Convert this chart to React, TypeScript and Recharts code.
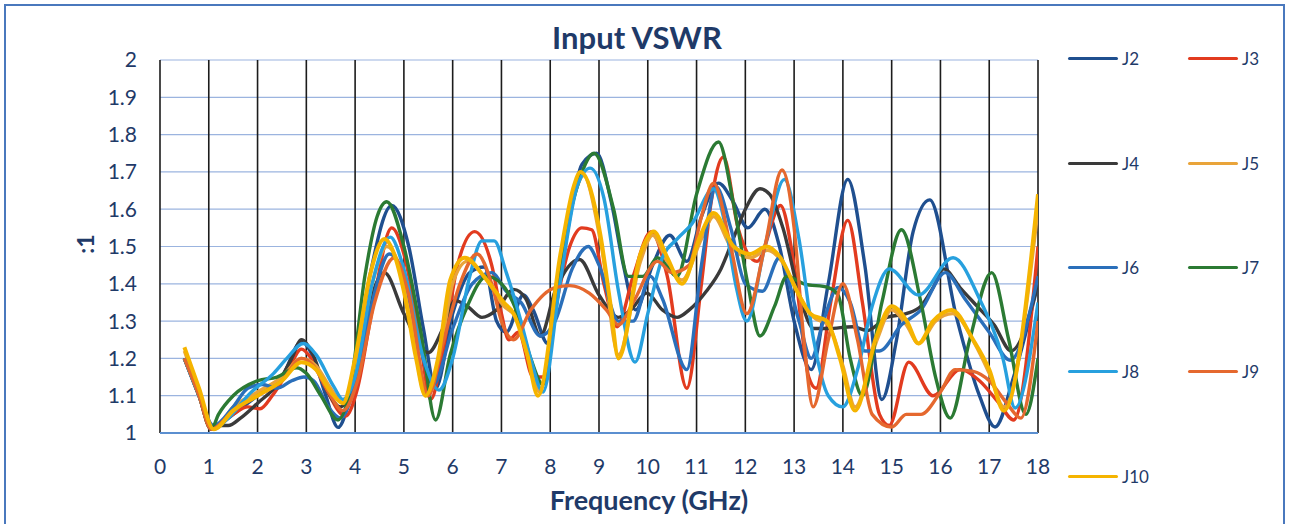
import React from 'react';
import { LineChart, Line, XAxis, YAxis, CartesianGrid } from 'recharts';

const FONT = 'Lato, "Open Sans", "DejaVu Sans", sans-serif';
const TEXT = '#1f3a68';

const X_TICKS = [0, 1, 2, 3, 4, 5, 6, 7, 8, 9, 10, 11, 12, 13, 14, 15, 16, 17, 18];
const Y_TICKS = [1, 1.1, 1.2, 1.3, 1.4, 1.5, 1.6, 1.7, 1.8, 1.9, 2];

// [frequency GHz, VSWR]
const J2: [number, number][] = [
  [0.5, 1.2], [0.8, 1.1], [1.05, 1.01], [1.3, 1.03], [1.6, 1.06], [2.0, 1.1], [2.5, 1.15], [2.9, 1.245],
  [3.15, 1.2], [3.4, 1.1], [3.65, 1.015], [3.9, 1.1], [4.3, 1.42], [4.75, 1.61], [5.1, 1.5], [5.4, 1.28],
  [5.65, 1.12], [6.0, 1.32], [6.35, 1.43], [6.65, 1.445], [6.9, 1.3], [7.1, 1.27], [7.45, 1.37], [7.65, 1.33],
  [7.95, 1.24], [8.3, 1.5], [8.65, 1.72], [8.95, 1.75], [9.25, 1.62], [9.5, 1.45], [9.75, 1.33], [10.1, 1.45],
  [10.45, 1.53], [10.8, 1.46], [11.1, 1.58], [11.45, 1.67], [11.75, 1.62], [12.05, 1.55], [12.4, 1.6], [12.7, 1.5],
  [13.0, 1.3], [13.35, 1.17], [13.7, 1.4], [14.1, 1.68], [14.45, 1.45], [14.8, 1.09], [15.1, 1.25], [15.44, 1.54],
  [15.78, 1.625], [16.33, 1.31], [16.8, 1.1], [17.12, 1.016], [17.5, 1.15], [18, 1.4],
];
const J3: [number, number][] = [
  [0.5, 1.2], [0.8, 1.1], [1.05, 1.01], [1.5, 1.05], [1.8, 1.07], [2.05, 1.065], [2.3, 1.1], [2.6, 1.16],
  [2.9, 1.225], [3.1, 1.2], [3.4, 1.12], [3.8, 1.045], [4.05, 1.12], [4.35, 1.33], [4.75, 1.55], [5.0, 1.48],
  [5.3, 1.28], [5.55, 1.09], [5.8, 1.22], [6.1, 1.45], [6.45, 1.54], [6.8, 1.45], [7.0, 1.32], [7.15, 1.25],
  [7.35, 1.27], [7.65, 1.15], [7.85, 1.15], [8.1, 1.33], [8.4, 1.5], [8.65, 1.55], [8.85, 1.545], [9.1, 1.4],
  [9.37, 1.285], [9.7, 1.42], [10.07, 1.54], [10.4, 1.42], [10.8, 1.12], [11.1, 1.4], [11.3, 1.62], [11.55, 1.74],
  [11.85, 1.55], [12.24, 1.46], [12.72, 1.61], [13.0, 1.45], [13.3, 1.15], [13.45, 1.12], [13.75, 1.35], [14.1, 1.57],
  [14.4, 1.35], [14.75, 1.05], [14.95, 1.02], [15.35, 1.19], [15.85, 1.1], [16.4, 1.17], [16.8, 1.14], [17.2, 1.08],
  [17.5, 1.035], [18, 1.5],
];
const J4: [number, number][] = [
  [0.5, 1.2], [0.8, 1.1], [1.05, 1.02], [1.4, 1.02], [1.65, 1.04], [2.0, 1.08], [2.4, 1.13], [2.7, 1.2],
  [2.9, 1.25], [3.1, 1.22], [3.4, 1.12], [3.7, 1.07], [4.0, 1.15], [4.3, 1.35], [4.6, 1.43], [5.0, 1.32],
  [5.5, 1.215], [5.8, 1.28], [6.05, 1.355], [6.3, 1.34], [6.6, 1.31], [6.9, 1.33], [7.25, 1.385], [7.5, 1.36],
  [7.8, 1.26], [8.1, 1.38], [8.6, 1.465], [9.0, 1.37], [9.4, 1.31], [9.65, 1.33], [9.98, 1.375], [10.3, 1.33],
  [10.6, 1.31], [10.85, 1.33], [11.2, 1.38], [11.5, 1.44], [11.75, 1.52], [12.0, 1.6], [12.3, 1.655], [12.5, 1.64],
  [12.77, 1.55], [13.12, 1.365], [13.4, 1.28], [13.7, 1.28], [14.2, 1.285], [14.5, 1.275], [14.9, 1.31], [15.3, 1.32],
  [15.6, 1.34], [15.85, 1.39], [16.07, 1.44], [16.4, 1.39], [16.75, 1.34], [17.1, 1.29], [17.45, 1.22], [18, 1.4],
];
const J5: [number, number][] = [
  [0.5, 1.22], [0.8, 1.11], [1.1, 1.01], [1.5, 1.07], [2.0, 1.11], [2.5, 1.15], [2.9, 1.2], [3.2, 1.18],
  [3.5, 1.12], [3.75, 1.08], [4.05, 1.2], [4.35, 1.4], [4.65, 1.5], [4.9, 1.45], [5.1, 1.34], [5.45, 1.1],
  [5.75, 1.22], [6.0, 1.4], [6.3, 1.46], [6.7, 1.41], [7.05, 1.34], [7.3, 1.31], [7.55, 1.2], [7.78, 1.11],
  [8.2, 1.45], [8.55, 1.66], [8.68, 1.69], [9.05, 1.5], [9.4, 1.21], [9.85, 1.46], [10.1, 1.53], [10.4, 1.46],
  [10.7, 1.41], [11.1, 1.52], [11.35, 1.58], [11.7, 1.5], [12.1, 1.47], [12.45, 1.49], [12.75, 1.46], [13.1, 1.37],
  [13.4, 1.31], [13.7, 1.29], [14.0, 1.18], [14.25, 1.07], [14.7, 1.25], [15.0, 1.33], [15.3, 1.29], [15.55, 1.24],
  [15.9, 1.3], [16.25, 1.32], [16.7, 1.24], [17.0, 1.16], [17.3, 1.07], [18, 1.6],
];
const J6: [number, number][] = [
  [0.5, 1.2], [0.8, 1.1], [1.1, 1.02], [1.5, 1.07], [1.8, 1.12], [2.1, 1.13], [2.4, 1.12], [2.7, 1.14],
  [2.95, 1.15], [3.15, 1.14], [3.45, 1.07], [3.7, 1.04], [4.0, 1.13], [4.35, 1.35], [4.7, 1.48], [5.0, 1.42],
  [5.3, 1.25], [5.6, 1.13], [6.0, 1.28], [6.4, 1.4], [6.8, 1.43], [7.1, 1.38], [7.4, 1.35], [7.8, 1.26],
  [8.1, 1.3], [8.45, 1.44], [8.78, 1.5], [9.0, 1.45], [9.4, 1.3], [9.7, 1.3], [10.05, 1.42], [10.3, 1.36],
  [10.8, 1.17], [11.1, 1.45], [11.4, 1.66], [11.7, 1.55], [12.0, 1.4], [12.35, 1.38], [12.7, 1.47], [13.1, 1.3],
  [13.35, 1.2], [13.6, 1.3], [13.9, 1.39], [14.15, 1.35], [14.45, 1.22], [14.75, 1.22], [15.2, 1.29], [15.6, 1.33],
  [16.1, 1.43], [16.5, 1.36], [17.0, 1.27], [17.43, 1.195], [18, 1.42],
];
const J7: [number, number][] = [
  [0.5, 1.2], [0.8, 1.1], [1.05, 1.01], [1.2, 1.05], [1.5, 1.1], [2.0, 1.14], [2.4, 1.15], [2.8, 1.175],
  [3.0, 1.16], [3.3, 1.1], [3.65, 1.035], [3.9, 1.12], [4.2, 1.42], [4.45, 1.58], [4.65, 1.62], [5.0, 1.5],
  [5.35, 1.27], [5.65, 1.035], [5.95, 1.21], [6.3, 1.34], [6.7, 1.42], [7.0, 1.4], [7.3, 1.33], [7.6, 1.2],
  [7.85, 1.13], [8.2, 1.45], [8.6, 1.68], [8.9, 1.75], [9.3, 1.6], [9.6, 1.42], [9.9, 1.42], [10.2, 1.47],
  [10.6, 1.42], [11.0, 1.64], [11.45, 1.78], [11.75, 1.62], [12.05, 1.4], [12.3, 1.26], [12.6, 1.34], [12.85, 1.42],
  [13.2, 1.4], [13.7, 1.39], [13.9, 1.37], [14.15, 1.2], [14.4, 1.1], [14.8, 1.35], [15.2, 1.545], [15.6, 1.35],
  [15.9, 1.15], [16.2, 1.04], [16.6, 1.25], [17.05, 1.43], [17.4, 1.25], [17.75, 1.05], [18, 1.2],
];
const J8: [number, number][] = [
  [0.5, 1.2], [0.8, 1.1], [1.1, 1.01], [1.37, 1.036], [1.85, 1.107], [2.33, 1.16], [2.6, 1.2], [2.94, 1.24],
  [3.2, 1.21], [3.56, 1.125], [3.75, 1.09], [4.0, 1.15], [4.35, 1.4], [4.72, 1.525], [5.0, 1.44], [5.4, 1.2],
  [5.72, 1.115], [6.0, 1.2], [6.35, 1.42], [6.6, 1.515], [6.85, 1.515], [7.1, 1.43], [7.4, 1.3], [7.6, 1.2],
  [7.85, 1.11], [8.2, 1.4], [8.55, 1.66], [8.82, 1.71], [9.1, 1.63], [9.4, 1.38], [9.74, 1.19], [10.0, 1.32],
  [10.3, 1.47], [10.6, 1.52], [10.9, 1.56], [11.35, 1.655], [11.6, 1.55], [11.8, 1.4], [12.03, 1.3], [12.4, 1.5],
  [12.8, 1.68], [13.1, 1.52], [13.4, 1.25], [13.7, 1.1], [14.0, 1.07], [14.3, 1.17], [14.6, 1.34], [14.95, 1.44],
  [15.55, 1.37], [16.26, 1.47], [16.8, 1.36], [17.28, 1.2], [17.53, 1.067], [18, 1.35],
];
const J9: [number, number][] = [
  [0.5, 1.2], [0.8, 1.1], [1.05, 1.01], [1.5, 1.06], [2.0, 1.1], [2.5, 1.14], [2.9, 1.2], [3.15, 1.18],
  [3.45, 1.11], [3.75, 1.06], [4.05, 1.14], [4.4, 1.35], [4.8, 1.47], [5.1, 1.37], [5.5, 1.1], [5.8, 1.24],
  [6.15, 1.4], [6.5, 1.48], [6.8, 1.4], [7.0, 1.3], [7.25, 1.25], [7.6, 1.33], [8.1, 1.39], [8.4, 1.395],
  [8.8, 1.375], [9.15, 1.33], [9.4, 1.29], [9.7, 1.35], [10.2, 1.46], [10.5, 1.43], [10.85, 1.45], [11.1, 1.58],
  [11.35, 1.67], [11.7, 1.5], [12.03, 1.32], [12.4, 1.5], [12.75, 1.705], [13.0, 1.55], [13.2, 1.25], [13.39, 1.07],
  [13.7, 1.25], [14.0, 1.4], [14.3, 1.25], [14.6, 1.05], [15.0, 1.016], [15.3, 1.05], [15.6, 1.05], [16.0, 1.11],
  [16.3, 1.17], [16.67, 1.165], [17.0, 1.14], [17.36, 1.08], [17.65, 1.04], [18, 1.3],
];
const J10: [number, number][] = [
  [0.5, 1.23], [0.8, 1.12], [1.1, 1.01], [1.5, 1.06], [2.0, 1.1], [2.5, 1.14], [2.9, 1.19], [3.2, 1.17],
  [3.5, 1.11], [3.75, 1.08], [4.0, 1.2], [4.3, 1.42], [4.6, 1.52], [4.8, 1.48], [5.0, 1.38], [5.25, 1.2],
  [5.44, 1.1], [5.7, 1.2], [5.95, 1.41], [6.25, 1.47], [6.64, 1.42], [7.05, 1.35], [7.25, 1.32], [7.53, 1.21],
  [7.75, 1.1], [8.21, 1.48], [8.48, 1.66], [8.62, 1.7], [9.03, 1.53], [9.23, 1.35], [9.4, 1.2], [9.85, 1.48],
  [10.12, 1.54], [10.4, 1.47], [10.7, 1.4], [11.08, 1.53], [11.35, 1.59], [11.76, 1.5], [12.1, 1.48], [12.44, 1.5],
  [12.72, 1.47], [13.06, 1.38], [13.33, 1.32], [13.67, 1.3], [13.94, 1.2], [14.25, 1.06], [14.69, 1.26], [15.0, 1.34],
  [15.31, 1.3], [15.55, 1.24], [15.85, 1.3], [16.23, 1.33], [16.67, 1.25], [17.0, 1.17], [17.3, 1.06], [18, 1.64],
];

const SERIES = [
  { name: 'J2', color: '#1f4f8f', pts: J2 },
  { name: 'J3', color: '#e23b1f', pts: J3 },
  { name: 'J4', color: '#3a3a3a', pts: J4 },
  { name: 'J5', color: '#e9a43a', pts: J5 },
  { name: 'J6', color: '#2a6fba', pts: J6 },
  { name: 'J7', color: '#2b7a33', pts: J7 },
  { name: 'J8', color: '#27a0de', pts: J8 },
  { name: 'J9', color: '#e5682e', pts: J9 },
  { name: 'J10', color: '#f5b400', pts: J10 },
];

const LEGEND_ROWS = [58, 163, 267, 371, 476];
const LEGEND_COLS = [1068, 1188];

export default function App() {
  return (
    <div style={{ position: 'absolute', left: 0, top: 0, width: 1289, height: 524, overflow: 'hidden', background: '#fff', fontFamily: FONT }}>
      <div style={{ position: 'absolute', left: 4, top: 4, width: 1281, height: 560, border: '2px solid #4a78bd', boxSizing: 'border-box' }} />
      <div style={{ position: 'absolute', left: 0, top: 0 }}>
        <LineChart width={1289} height={524} margin={{ top: 60, right: 251, bottom: 41, left: 0 }}>
          <CartesianGrid vertical={false} stroke="#9bb4df" strokeWidth={1.2} />
          <CartesianGrid horizontal={false} stroke="#1c1c1c" strokeWidth={1.6} />
          <XAxis
            type="number"
            dataKey="f"
            domain={[0, 18]}
            ticks={X_TICKS}
            allowDataOverflow
            height={50}
            axisLine={{ stroke: '#5b8fd0', strokeWidth: 2 }}
            tickLine={false}
            tickSize={0}
            tickMargin={26}
            tick={{ fill: TEXT, fontSize: 21, fontFamily: FONT }}
          />
          <YAxis
            type="number"
            domain={[1, 2]}
            ticks={Y_TICKS}
            allowDataOverflow
            width={160}
            axisLine={false}
            tickLine={false}
            tickSize={0}
            tickMargin={23}
            tickFormatter={(v: number) => String(Number(v.toFixed(1)))}
            tick={{ fill: TEXT, fontSize: 21, fontFamily: FONT }}
          />
          {SERIES.map((s) => (
            <Line
              key={s.name}
              data={s.pts.map(([f, v]) => ({ f, v }))}
              dataKey="v"
              name={s.name}
              type="monotone"
              stroke={s.color}
              strokeWidth={s.name === 'J10' ? 4 : 3.4}
              dot={false}
              activeDot={false}
              isAnimationActive={false}
            />
          ))}
        </LineChart>
      </div>
      <div style={{ position: 'absolute', left: 387, width: 500, top: 18, textAlign: 'center', fontSize: 31, fontWeight: 700, color: TEXT, lineHeight: '38px' }}>
        Input VSWR
      </div>
      <div style={{ position: 'absolute', left: 449, width: 400, top: 484, textAlign: 'center', fontSize: 27, fontWeight: 700, color: TEXT, lineHeight: '32px' }}>
        Frequency (GHz)
      </div>
      <div style={{ position: 'absolute', left: 45, top: 230, width: 80, textAlign: 'center', fontSize: 23, fontWeight: 700, color: TEXT, lineHeight: '28px', transform: 'rotate(-90deg)' }}>
        :1
      </div>
      {SERIES.map((s, i) => {
        const x = LEGEND_COLS[i % 2];
        const y = LEGEND_ROWS[Math.floor(i / 2)];
        return (
          <div key={s.name} style={{ position: 'absolute', left: x, top: y - 11, height: 22, display: 'flex', alignItems: 'center' }}>
            <div style={{ width: 50, height: 3, borderRadius: 2, background: s.color }} />
            <span style={{ marginLeft: 4, fontSize: 17, color: TEXT }}>{s.name}</span>
          </div>
        );
      })}
    </div>
  );
}
